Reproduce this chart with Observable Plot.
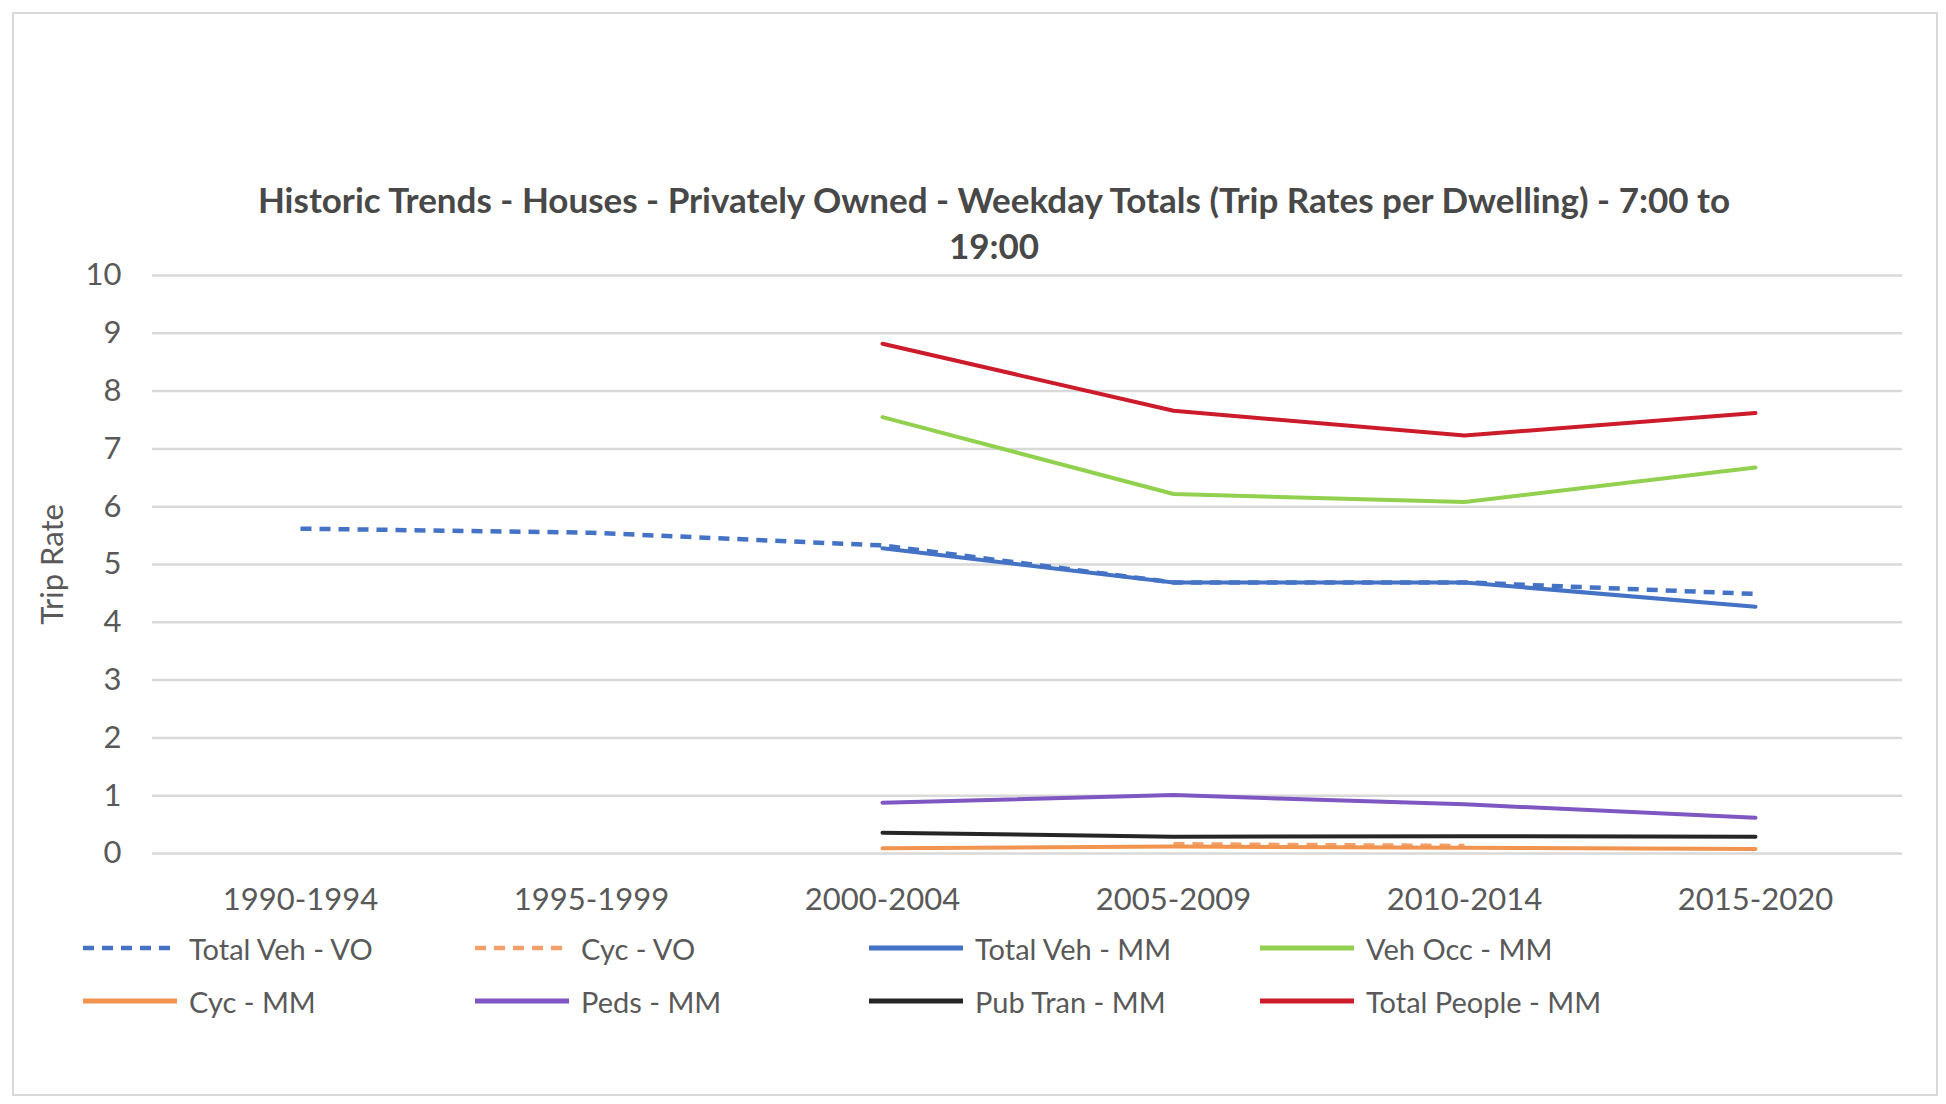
<!DOCTYPE html>
<html>
<head>
<meta charset="utf-8">
<script src="https://cdn.jsdelivr.net/npm/d3@7"></script>
<script src="https://cdn.jsdelivr.net/npm/@observablehq/plot@0.6"></script>
<style>
  html, body { margin: 0; padding: 0; background: #fff; }
  body { width: 1946px; height: 1104px; position: relative; overflow: hidden; font-family: Lato, "Open Sans", sans-serif; color: #595959; }
  #frame { position: absolute; left: 12px; top: 12px; width: 1926px; height: 1084px; border: 2px solid #d9d9d9; box-sizing: border-box; }
  #title { position: absolute; left: 194px; width: 1600px; top: 176px; text-align: center; font-size: 35px; line-height: 46px; font-weight: 700; color: #484848; }
  #chart { position: absolute; left: 0; top: 230px; }
  .leg { position: absolute; display: flex; align-items: center; font-size: 29px; color: #595959; white-space: nowrap; }
  .leg svg { margin-right: 12px; }
</style>
</head>
<body>
<div id="frame"></div>
<div id="title"></div>
<div id="chart"></div>
<div id="legend"></div>
<script>
// ---- data ----
const titleLines = ["Historic Trends - Houses - Privately Owned - Weekday Totals (Trip Rates per Dwelling) - 7:00 to", "19:00"];
const yLabel = "Trip Rate";
const periods = ["1990-1994", "1995-1999", "2000-2004", "2005-2009", "2010-2014", "2015-2020"];
const yTicks = [0, 1, 2, 3, 4, 5, 6, 7, 8, 9, 10];
const seriesNames = ["Total Veh - VO", "Cyc - VO", "Total Veh - MM", "Veh Occ - MM", "Cyc - MM", "Peds - MM", "Pub Tran - MM", "Total People - MM"];
const totalVehVO    = [5.62, 5.55, 5.33, 4.69, 4.69, 4.49];
const cycVO         = [null, null, null, 0.16, 0.13, null];
const totalVehMM    = [null, null, 5.28, 4.69, 4.69, 4.27];
const vehOccMM      = [null, null, 7.55, 6.22, 6.08, 6.68];
const cycMM         = [null, null, 0.09, 0.12, 0.10, 0.08];
const pedsMM        = [null, null, 0.88, 1.01, 0.85, 0.62];
const pubTranMM     = [null, null, 0.36, 0.29, 0.30, 0.29];
const totalPeopleMM = [null, null, 8.82, 7.66, 7.23, 7.62];

// ---- styles ----
const seriesColors = ["#4472C4", "#F4A06A", "#4472C4", "#92D050", "#F0944F", "#7E57C2", "#262626", "#CC1B2B"];
const seriesDashed = [true, true, false, false, false, false, false, false];

const seriesValues = [totalVehVO, cycVO, totalVehMM, vehOccMM, cycMM, pedsMM, pubTranMM, totalPeopleMM];
const rows = [];
seriesNames.forEach((name, i) => {
  seriesValues[i].forEach((v, j) => {
    if (v != null) rows.push({series: name, period: periods[j], value: v, dashed: seriesDashed[i]});
  });
});

// title
document.getElementById("title").innerHTML = titleLines.map(t => `<div>${t}</div>`).join("");

const plot = Plot.plot({
  width: 1946,
  height: 690,
  marginLeft: 152,
  marginRight: 44,
  marginTop: 45,
  marginBottom: 67,
  style: {fontFamily: "Lato, 'Open Sans', sans-serif", fontSize: "31px", color: "#595959", background: "transparent", overflow: "visible"},
  x: {type: "point", domain: periods, padding: 0.5},
  y: {domain: [0, 10]},
  color: {domain: seriesNames, range: seriesColors},
  marks: [
    Plot.ruleY(yTicks, {stroke: "#d9d9d9", strokeWidth: 2.5}),
    Plot.axisY({ticks: yTicks, tickSize: 0, tickPadding: 31, label: yLabel, labelAnchor: "center", labelOffset: 112, labelArrow: "none"}),
    Plot.axisX({tickSize: 0, tickPadding: 34, label: null}),
    Plot.line(rows.filter(d => d.dashed), {x: "period", y: "value", z: "series", stroke: "series", strokeWidth: 4.5, strokeDasharray: "11,8", strokeLinecap: "butt"}),
    Plot.line(rows.filter(d => !d.dashed), {x: "period", y: "value", z: "series", stroke: "series", strokeWidth: 4})
  ]
});
document.getElementById("chart").appendChild(plot);

// legend
const legendCols = [83, 475, 869, 1260];
const legendRows = [948, 1001];
const legend = document.getElementById("legend");
seriesNames.forEach((name, i) => {
  const col = i % 4, row = Math.floor(i / 4);
  const el = document.createElement("div");
  el.className = "leg";
  el.style.left = legendCols[col] + "px";
  el.style.top = (legendRows[row] - 20) + "px";
  el.style.height = "40px";
  const dash = seriesDashed[i] ? `stroke-dasharray="11,8"` : "";
  el.innerHTML = `<svg width="94" height="10"><line x1="0" y1="5" x2="94" y2="5" stroke="${seriesColors[i]}" stroke-width="${seriesDashed[i] ? 4.5 : 5}" ${dash}/></svg><span>${name}</span>`;
  legend.appendChild(el);
});
</script>
</body>
</html>
